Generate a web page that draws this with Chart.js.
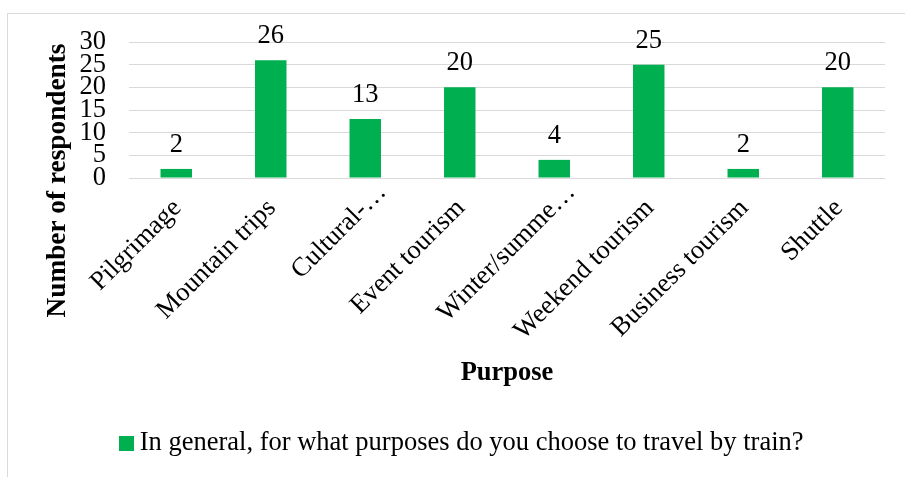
<!DOCTYPE html>
<html>
<head>
<meta charset="utf-8">
<script src="https://cdn.jsdelivr.net/npm/chart.js@4.4.1/dist/chart.umd.min.js"></script>
<style>
  html, body { margin: 0; padding: 0; background: #fff; overflow: hidden; width: 905px; height: 477px; }
  #wrap { position: absolute; left: 7px; top: 13px; width: 914px; height: 470px; border: 1px solid #d9d9d9; }
  #c { display: block; }
</style>
</head>
<body>
<div id="wrap"><canvas id="c" width="914" height="470"></canvas></div>
<script>
const categories = ["Pilgrimage", "Mountain trips", "Cultural-\u2026", "Event tourism", "Winter/summe\u2026", "Weekend tourism", "Business tourism", "Shuttle"];
const respondents = [2, 26, 13, 20, 4, 25, 2, 20];
const seriesLabel = "In general, for what purposes do you choose to travel by train?";
const xTitle = "Purpose";
const yTitle = "Number of respondents";
const yTicks = [0, 5, 10, 15, 20, 25, 30];

const FONT = "'Liberation Serif', 'Times New Roman', serif";
const GREEN = "#00b050";

// legend swatch
const swatch = document.createElement('canvas');
swatch.width = 15; swatch.height = 15;
(function () { const s = swatch.getContext('2d'); s.fillStyle = GREEN; s.fillRect(0, 0, 15, 15); })();

const dataLabels = {
  id: 'dataLabels',
  afterDatasetsDraw(chart) {
    const ctx = chart.ctx;
    const meta = chart.getDatasetMeta(0);
    ctx.save();
    ctx.font = "26.5px " + FONT;
    ctx.fillStyle = "#000";
    ctx.textAlign = "center";
    ctx.textBaseline = "alphabetic";
    meta.data.forEach((bar, i) => {
      ctx.fillText(String(chart.data.datasets[0].data[i]), bar.x, bar.y - 17);
    });
    ctx.restore();
  }
};

// category labels rotated 45°, anchored by the x scale's tick pixels
const xLabels = {
  id: 'xLabels',
  afterDraw(chart) {
    const ctx = chart.ctx;
    const xs = chart.scales.x;
    const base = xs.top + 31;
    ctx.save();
    ctx.font = "26.5px " + FONT;
    ctx.fillStyle = "#000";
    ctx.textAlign = "right";
    ctx.textBaseline = "alphabetic";
    chart.data.labels.forEach((lab, i) => {
      const px = xs.getPixelForTick(i);
      const shift = lab.endsWith('\u2026') ? 16 : 0;
      ctx.save();
      ctx.translate(px + 6 + shift, base - shift);
      ctx.rotate(-Math.PI / 4);
      ctx.fillText(lab, 0, 0);
      ctx.restore();
    });
    ctx.restore();
  }
};

const yAxisTitle = {
  id: 'yAxisTitle',
  afterDraw(chart) {
    const ctx = chart.ctx;
    ctx.save();
    ctx.translate(50, 166.5);
    ctx.rotate(-Math.PI / 2);
    ctx.font = "bold 27.3px " + FONT;
    ctx.fillStyle = "#000";
    ctx.textAlign = "center";
    ctx.textBaseline = "middle";
    ctx.fillText(yTitle, 0, 0);
    ctx.restore();
  }
};

new Chart(document.getElementById('c'), {
  type: 'bar',
  data: {
    labels: categories,
    datasets: [{
      label: seriesLabel,
      data: respondents,
      backgroundColor: GREEN,
      borderWidth: 0,
      barPercentage: 0.333,
      categoryPercentage: 1.0
    }]
  },
  options: {
    responsive: false,
    animation: false,
    events: [],
    layout: { padding: { left: 0, right: 0, top: 28, bottom: 17.35 } },
    plugins: {
      tooltip: { enabled: false },
      legend: {
        position: 'bottom',
        labels: {
          font: { family: FONT, size: 26.5 },
          color: "#000",
          usePointStyle: true,
          pointStyle: swatch,
          pointStyleWidth: 0.01,
          boxHeight: 15,
          padding: 10
        }
      }
    },
    scales: {
      x: {
        grid: { display: false, drawTicks: false },
        border: { display: false },
        ticks: { display: false, autoSkip: false },
        title: {
          display: true,
          text: xTitle,
          font: { family: FONT, size: 26.5, weight: 'bold' },
          color: "#000",
          padding: { top: 0, bottom: 31.35 }
        },
        afterFit(scale) { scale.height = 242.15; scale.paddingLeft = 0; scale.paddingRight = 0; }
      },
      y: {
        min: 0,
        max: 30,
        grid: { color: "#d9d9d9", lineWidth: 1, drawTicks: false },
        border: { display: false },
        afterBuildTicks(scale) { scale.ticks = yTicks.map(v => ({ value: v })); },
        ticks: {
          font: { family: FONT, size: 26.5 },
          color: "#000",
          padding: 23,
          autoSkip: false
        },
        afterFit(scale) {
          scale.width = 121;
          scale.paddingTop = 0;
          scale.paddingBottom = 0;
        }
      },
      yRight: {
        type: 'linear',
        position: 'right',
        min: 0,
        max: 30,
        grid: { display: false, drawTicks: false },
        border: { display: false },
        ticks: { display: false },
        afterFit(scale) {
          scale.width = 37;
          scale.paddingTop = 0;
          scale.paddingBottom = 0;
        }
      }
    }
  },
  plugins: [dataLabels, xLabels, yAxisTitle]
});
</script>
</body>
</html>
